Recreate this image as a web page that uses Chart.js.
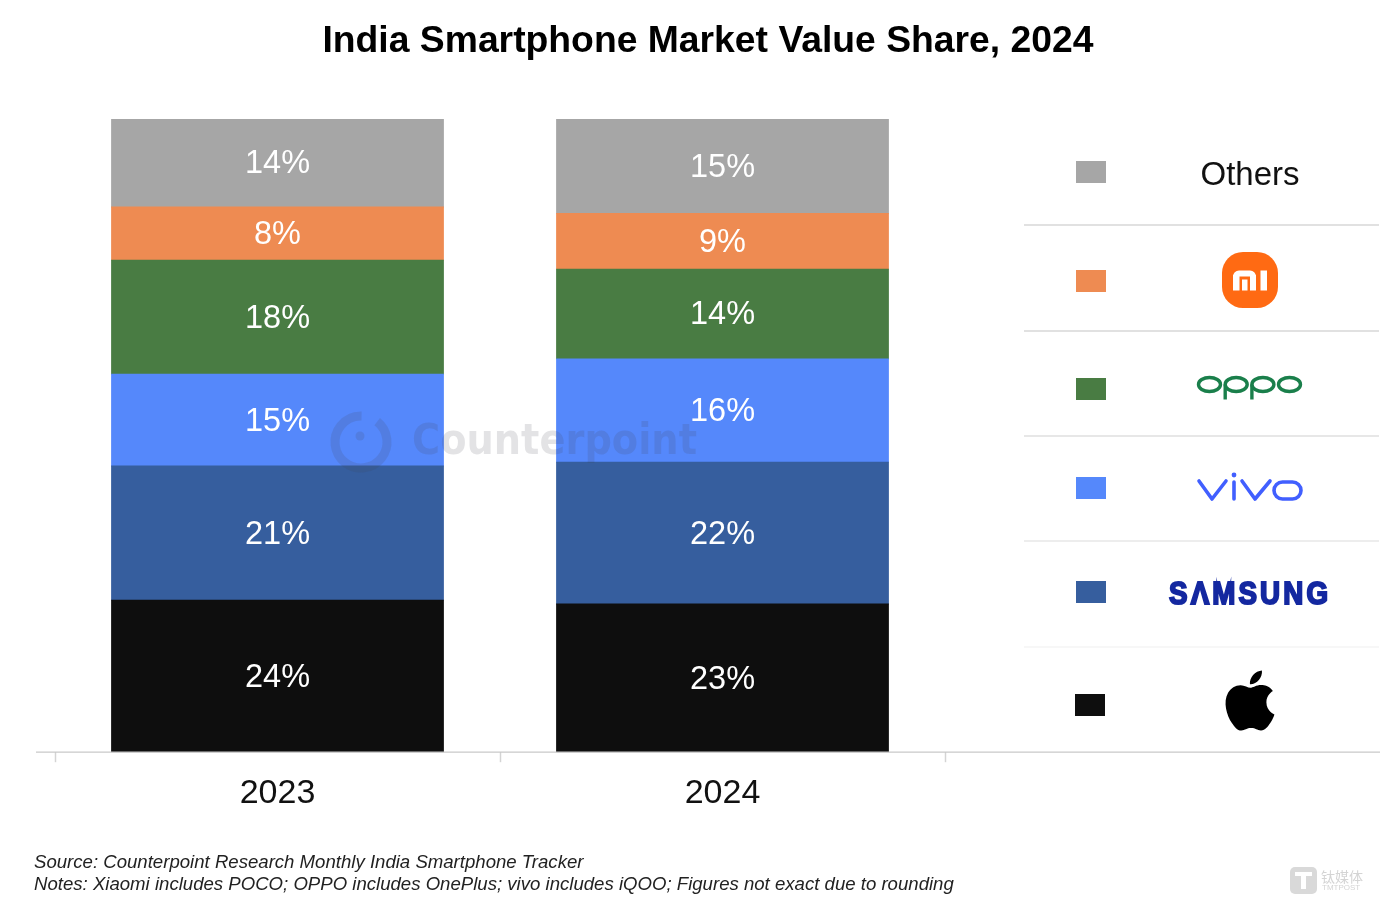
<!DOCTYPE html>
<html>
<head>
<meta charset="utf-8">
<title>India Smartphone Market Value Share, 2024</title>
<script src="https://cdn.jsdelivr.net/npm/chart.js@4"></script>
<style>
    html, body { margin: 0; padding: 0; background: #fff; }
    canvas { display: block; filter: blur(0.5px); }
</style>
</head>
<body>
<canvas id="shareChart" width="1400" height="919"></canvas>
<script>
const years = ['2023', '2024', ''];

const appleShare = [24.0, 23.4, null];
const samsungShare = [21.2, 22.4, null];
const vivoShare = [14.5, 16.3, null];
const oppoShare = [18.0, 14.2, null];
const xiaomiShare = [8.4, 8.8, null];
const othersShare = [13.9, 14.9, null];

const brandNames = ['Apple', 'Samsung', 'vivo', 'OPPO', 'Xiaomi', 'Others'];
const brandColors = ['#0e0e0e', '#365e9e', '#5588fb', '#497c43', '#ee8b52', '#a6a6a6'];
const shareLists = [appleShare, samsungShare, vivoShare, oppoShare, xiaomiShare, othersShare];

const sourceLine = 'Source: Counterpoint Research Monthly India Smartphone Tracker';
const notesLine = 'Notes: Xiaomi includes POCO; OPPO includes OnePlus; vivo includes iQOO; Figures not exact due to rounding';

const FONT = '"Liberation Sans", Arial, sans-serif';

// Percent labels inside the bars
const barLabels = {
    id: 'barLabels',
    afterDatasetsDraw(chart) {
        const ctx = chart.ctx;
        ctx.save();
        ctx.fillStyle = '#fff';
        ctx.font = '32.5px ' + FONT;
        ctx.textAlign = 'center';
        ctx.textBaseline = 'middle';
        chart.data.datasets.forEach((ds, i) => {
            chart.getDatasetMeta(i).data.forEach((bar, j) => {
                if (ds.data[j] === null) return;
                ctx.fillText(Math.round(ds.data[j]) + '%', bar.x, bar.y + (bar.base - bar.y) / 2 + 1.5);
            });
        });
        ctx.restore();
    }
};

// Faint Counterpoint mark across the bars
function drawWatermark(ctx) {
    ctx.save();
    ctx.strokeStyle = 'rgba(70,70,80,0.15)';
    ctx.fillStyle = 'rgba(70,70,80,0.15)';
    ctx.lineWidth = 9;
    ctx.beginPath();
    ctx.arc(361, 442, 26, -0.9, -1.45 + Math.PI * 2 - 0.1);
    ctx.stroke();
    ctx.beginPath();
    ctx.arc(360, 436, 4.5, 0, Math.PI * 2);
    ctx.fill();
    ctx.font = 'bold 43px "DejaVu Sans", sans-serif';
    ctx.textBaseline = 'middle';
    ctx.textAlign = 'left';
    const w = ctx.measureText('Counterpoint').width;
    ctx.translate(412, 443);
    ctx.scale(285 / w, 1);
    ctx.fillText('Counterpoint', 0, 0);
    ctx.restore();
}

function drawMiLogo(ctx) {
    ctx.save();
    ctx.fillStyle = '#ff6a13';
    ctx.beginPath();
    ctx.roundRect(1222, 252, 56, 56, 21);
    ctx.fill();
    ctx.fillStyle = '#fff';
    ctx.beginPath();
    ctx.roundRect(1233, 270.5, 23, 6, [6, 6, 0, 0]);
    ctx.rect(1233, 275, 6.5, 15.5);
    ctx.rect(1242, 279.5, 5.5, 11);
    ctx.rect(1250, 275, 6, 15.5);
    ctx.rect(1260.5, 270.5, 6.5, 20);
    ctx.fill();
    ctx.restore();
}

function drawOppoLogo(ctx) {
    ctx.save();
    ctx.strokeStyle = '#1a7f4b';
    ctx.lineWidth = 3.4;
    [1209.5, 1236.2, 1262.9, 1289.5].forEach(cx => {
        ctx.beginPath();
        ctx.ellipse(cx, 384.5, 11, 7, 0, 0, Math.PI * 2);
        ctx.stroke();
    });
    [1225.2, 1251.9].forEach(x => {
        ctx.beginPath();
        ctx.moveTo(x, 384.5);
        ctx.lineTo(x, 399.5);
        ctx.stroke();
    });
    ctx.restore();
}

function drawVivoLogo(ctx) {
    ctx.save();
    ctx.strokeStyle = '#415fff';
    ctx.fillStyle = '#415fff';
    ctx.lineWidth = 3.6;
    ctx.lineCap = 'round';
    ctx.lineJoin = 'round';
    ctx.beginPath();
    ctx.moveTo(1199, 481);
    ctx.lineTo(1212, 499);
    ctx.lineTo(1226, 481);
    ctx.moveTo(1234, 482);
    ctx.lineTo(1234, 499);
    ctx.moveTo(1242, 481);
    ctx.lineTo(1255, 499);
    ctx.lineTo(1270, 481);
    ctx.stroke();
    ctx.beginPath();
    ctx.roundRect(1274, 482, 27, 17, 8.5);
    ctx.stroke();
    ctx.beginPath();
    ctx.arc(1234, 475, 2.4, 0, Math.PI * 2);
    ctx.fill();
    ctx.restore();
}

function drawSamsungLogo(ctx) {
    ctx.save();
    ctx.fillStyle = '#1428a0';
    ctx.strokeStyle = '#1428a0';
    ctx.lineWidth = 2;
    ctx.font = 'bold 31px ' + FONT;
    ctx.letterSpacing = '3.5px';
    ctx.textBaseline = 'alphabetic';
    ctx.textAlign = 'left';
    const w = ctx.measureText('SΛMSUNG').width - 3.5;
    ctx.translate(1169, 603.5);
    ctx.scale(159 / w, 1);
    ctx.fillText('SΛMSUNG', 0, 0);
    ctx.strokeText('SΛMSUNG', 0, 0);
    ctx.restore();
}

function drawAppleLogo(ctx) {
    const apple = new Path2D('M12.152 6.896c-.948 0-2.415-1.078-3.96-1.04-2.04.027-3.91 1.183-4.961 3.014-2.117 3.675-.546 9.103 1.519 12.09 1.013 1.454 2.208 3.09 3.792 3.039 1.52-.065 2.09-.987 3.935-.987 1.831 0 2.35.987 3.96.948 1.637-.026 2.676-1.48 3.676-2.948 1.156-1.688 1.636-3.325 1.662-3.415-.039-.013-3.182-1.221-3.22-4.857-.026-3.04 2.48-4.494 2.597-4.559-1.429-2.09-3.623-2.324-4.39-2.376-2-.156-3.675 1.09-4.61 1.09zM15.53 3.83c.843-1.012 1.4-2.427 1.245-3.83-1.207.052-2.662.805-3.532 1.818-.78.896-1.454 2.338-1.273 3.714 1.338.104 2.715-.688 3.559-1.701');
    ctx.save();
    ctx.translate(1250 - 12 * 2.5, 670.5);
    ctx.scale(2.5, 2.5);
    ctx.fillStyle = '#000';
    ctx.fill(apple);
    ctx.restore();
}

// Brand key on the right, same order as the stack from the top down
const brandKey = {
    id: 'brandKey',
    afterDraw(chart) {
        const ctx = chart.ctx;
        ctx.save();

        // Baseline runs a bit wider/shorter than the plot area
        const axisY = chart.chartArea.bottom;
        ctx.strokeStyle = '#c9c9c9';
        ctx.lineWidth = 1.3;
        ctx.beginPath();
        ctx.moveTo(36, axisY);
        ctx.lineTo(1380, axisY);
        ctx.stroke();

        const swatchX = [1075, 1076, 1076, 1076, 1076, 1076];
        const swatchY = [694, 581, 477, 378, 270, 161];
        brandColors.forEach((color, i) => {
            ctx.fillStyle = color;
            ctx.fillRect(swatchX[i], swatchY[i], 30, 22);
        });

        const ruleY = [225, 331, 436, 541, 647];
        const ruleColor = ['#c4c4c4', '#c4c4c4', '#cfcfcf', '#dcdcdc', '#efefef'];
        ruleY.forEach((y, i) => {
            ctx.strokeStyle = ruleColor[i];
            ctx.lineWidth = 1.2;
            ctx.beginPath();
            ctx.moveTo(1024, y);
            ctx.lineTo(1379, y);
            ctx.stroke();
        });

        ctx.fillStyle = '#111';
        ctx.font = '33px ' + FONT;
        ctx.textAlign = 'center';
        ctx.textBaseline = 'middle';
        ctx.fillText('Others', 1250, 176);

        drawMiLogo(ctx);
        drawOppoLogo(ctx);
        drawVivoLogo(ctx);
        drawSamsungLogo(ctx);
        drawAppleLogo(ctx);
        drawWatermark(ctx);

        // Source notes
        ctx.fillStyle = '#222';
        ctx.font = 'italic 18.6px ' + FONT;
        ctx.textAlign = 'left';
        ctx.textBaseline = 'middle';
        ctx.fillText(sourceLine, 34, 863);
        ctx.fillText(notesLine, 34, 885);

        // TMTPOST stamp
        ctx.fillStyle = '#d9d9d9';
        ctx.beginPath();
        ctx.roundRect(1290, 867, 27, 27, 5);
        ctx.fill();
        ctx.fillStyle = '#fff';
        ctx.fillRect(1295, 872, 17, 4);
        ctx.fillRect(1301, 872, 5, 17);
        ctx.fillStyle = '#d4d4d4';
        ctx.font = '14px "Noto Sans CJK SC", sans-serif';
        ctx.textAlign = 'left';
        ctx.fillText('钛媒体', 1321, 877);
        ctx.font = '8px ' + FONT;
        ctx.fillText('TMTPOST', 1322, 888);
        ctx.restore();
    }
};

new Chart(document.getElementById('shareChart'), {
    type: 'bar',
    data: {
        labels: years,
        datasets: brandNames.map((name, i) => ({
            label: name,
            data: shareLists[i],
            backgroundColor: brandColors[i],
            borderWidth: 0,
            inflateAmount: 0.4,
            barPercentage: 0.746,
            categoryPercentage: 1
        }))
    },
    options: {
        responsive: false,
        animation: false,
        layout: { padding: { left: 26, right: 10, top: 0, bottom: 94 } },
        plugins: {
            legend: { display: false },
            tooltip: { enabled: false },
            title: {
                display: true,
                text: 'India Smartphone Market Value Share, 2024',
                color: '#000',
                font: { family: FONT, size: 37.3, weight: 'bold' },
                padding: { top: 19, bottom: 55.2 }
            }
        },
        scales: {
            x: {
                stacked: true,
                border: { display: false },
                grid: {
                    drawOnChartArea: false,
                    tickLength: 10,
                    tickWidth: 1.5,
                    tickColor: ctx => ctx.index < 3 ? '#d4d4d4' : 'transparent'
                },
                ticks: {
                    color: '#111',
                    padding: 11,
                    maxRotation: 0,
                    font: { family: FONT, size: 34 }
                }
            },
            y: {
                stacked: true,
                min: 0,
                max: 100,
                border: { display: false },
                grid: { display: false },
                ticks: { display: false },
                afterFit: scale => { scale.width = 29; }
            }
        }
    },
    plugins: [barLabels, brandKey]
});
</script>
</body>
</html>
